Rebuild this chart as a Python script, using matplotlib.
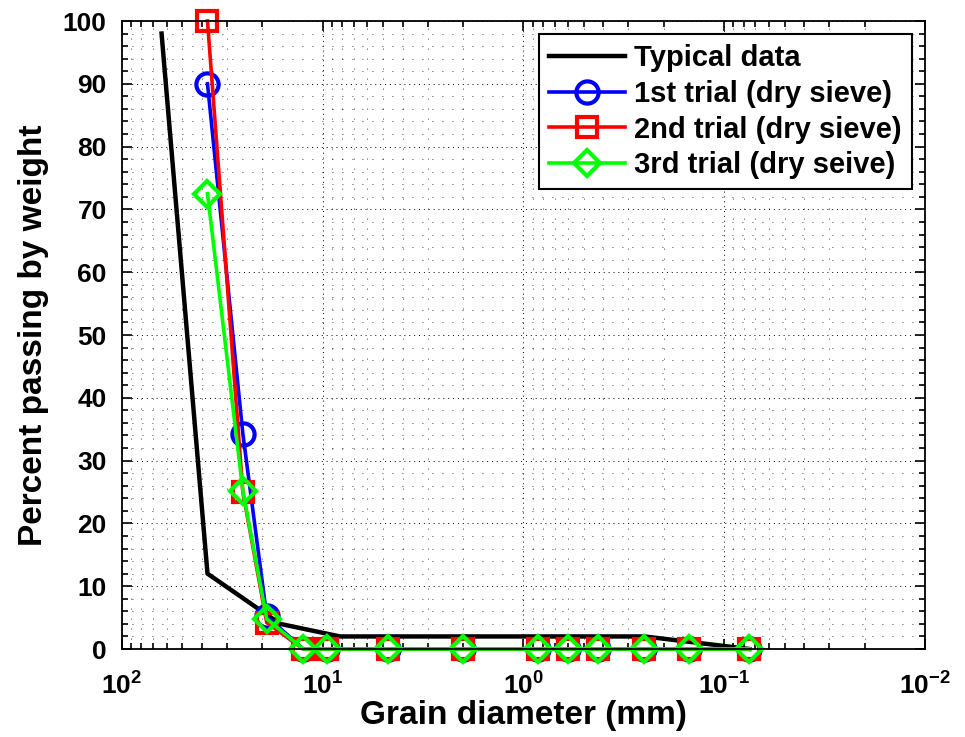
import matplotlib
matplotlib.use("Agg")
import matplotlib.pyplot as plt
from matplotlib.ticker import LogLocator, MultipleLocator, NullFormatter

plt.rcParams["font.family"] = ["Liberation Sans", "DejaVu Sans"]
plt.rcParams["font.weight"] = "bold"
plt.rcParams["mathtext.fontset"] = "custom"
plt.rcParams["mathtext.rm"] = "Liberation Sans:bold"
plt.rcParams["mathtext.bf"] = "Liberation Sans:bold"
plt.rcParams["mathtext.default"] = "rm"

# typical gradation curve
typical_d = [63.5, 37.5, 16.3, 8.2, 0.25, 0.075]
typical_p = [98, 12, 4, 2, 2, 0]

# sieve openings (mm) used in the trials
sieves = [37.5, 25, 19, 12.5, 9.5, 4.75, 2.0, 0.85, 0.6, 0.425, 0.25, 0.15, 0.075]
trial1 = [90, 34.3, 5.2, 0, 0, 0, 0, 0, 0, 0, 0, 0, 0]
trial2 = [100, 25, 4.2, 0, 0, 0, 0, 0, 0, 0, 0, 0, 0]
trial3 = [72.5, 25.2, 4.8, 0, 0, 0, 0, 0, 0, 0, 0, 0, 0]

labels = ["Typical data", "1st trial (dry sieve)", "2nd trial (dry sieve)", "3rd trial (dry seive)"]

fig = plt.figure(figsize=(9.65, 7.37), dpi=100)
ax = fig.add_axes([0.1264, 0.1194, 0.8321, 0.8521])

ax.plot(typical_d, typical_p, color="black", lw=3.2, label=labels[0], clip_on=False)
ax.plot(sieves, trial1, color="blue", lw=2.6, marker="o", ms=16, mfc="none",
        mew=3, label=labels[1], clip_on=False)
ax.plot(sieves, trial2, color="red", lw=2.6, marker="s", ms=14, mfc="none",
        mew=3, label=labels[2], clip_on=False)
ax.plot(sieves, trial3, color="lime", lw=2.6, marker="D", ms=13, mfc="none",
        mew=3, label=labels[3], clip_on=False)

ax.set_xscale("log")
ax.set_xlim(100, 0.01)
ax.set_ylim(0, 100)
ax.xaxis.set_major_locator(LogLocator(base=10, numticks=10))
ax.xaxis.set_minor_locator(LogLocator(base=10, subs=range(2, 10), numticks=20))
ax.xaxis.set_minor_formatter(NullFormatter())
ax.yaxis.set_major_locator(MultipleLocator(10))
ax.yaxis.set_minor_locator(MultipleLocator(2))

ax.grid(which="major", color="black", linestyle=(0, (1, 4)), lw=0.7)
ax.grid(which="minor", color="black", linestyle=(0, (1, 11)), lw=0.6)
ax.set_axisbelow(True)

ax.tick_params(which="both", direction="in", top=True, right=True, labelsize=19, width=1.2)
ax.tick_params(which="major", length=7)
ax.tick_params(which="minor", length=4)
ax.tick_params(axis="y", which="major", pad=11)
ax.tick_params(axis="x", which="major", pad=17)
for s in ax.spines.values():
    s.set_linewidth(1.3)

ax.set_xlabel("Grain diameter (mm)", fontsize=24, fontweight="bold", labelpad=0)
ax.set_ylabel("Percent passing by weight", fontsize=24, fontweight="bold", labelpad=10)

leg = ax.legend(loc="upper right", fontsize=21, handlelength=2.6, fancybox=False,
                framealpha=1, edgecolor="black", borderaxespad=0.45, labelspacing=0.26,
                borderpad=0.35, handletextpad=0.3)
leg.get_frame().set_linewidth(1.5)

fig.savefig("out.png", dpi=100)
